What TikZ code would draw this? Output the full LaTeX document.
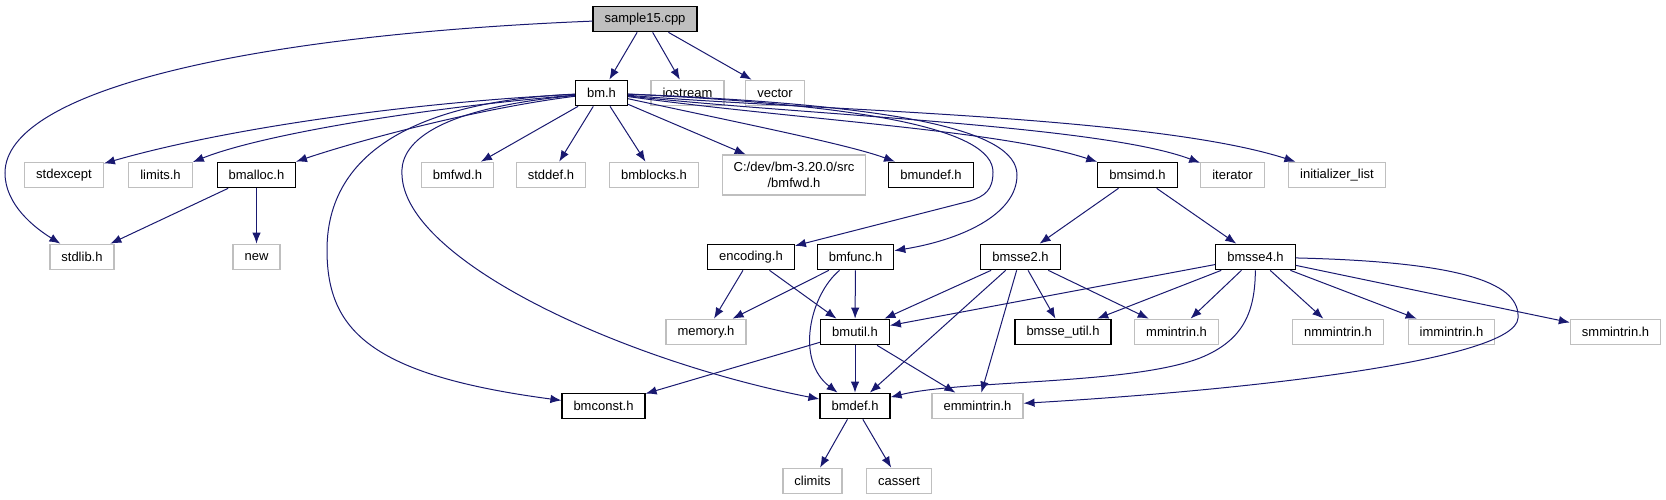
\documentclass[tikz,border=0pt]{standalone}
\usepackage{fontspec}
\setmainfont{Liberation Sans}
\usetikzlibrary{arrows.meta}
\definecolor{DepBlue}{HTML}{191970}
\definecolor{SysGray}{HTML}{BFBFBF}

\begin{document}
\begin{tikzpicture}[
    x=1pt,y=-1pt,font=\fontsize{13}{16}\selectfont,
    hdr/.style={draw=black,line width=1.2pt,fill=white,
      minimum height=25.5pt,inner xsep=11.5pt,inner ysep=3pt},
    sys/.style={hdr,draw=SysGray},
    src/.style={hdr,fill=SysGray},
    dep/.style={-{Latex[length=11pt,width=8.5pt]},line width=1pt,draw=DepBlue}
  ]
    \useasboundingbox (0,0) rectangle (1666,500);

    \node[src] (sample) at (645,19) {sample15.cpp};

    \node[hdr] (bmh) at (601.5,93) {bm.h};
    \node[sys] (iostream) at (687.5,93) {iostream};
    \node[sys] (vector) at (775,93) {vector};

    \node[sys] (stdexcept) at (64,175) {stdexcept};
    \node[sys] (limits) at (160.5,175) {limits.h};
    \node[hdr] (bmalloc) at (256.5,175) {bmalloc.h};
    \node[sys] (bmfwd) at (457.5,175) {bmfwd.h};
    \node[sys] (stddef) at (551,175) {stddef.h};
    \node[sys] (bmblocks) at (654,175) {bmblocks.h};
    \node[sys,minimum height=40pt,align=center] (srcfwd) at (794,175) {C:/dev/bm-3.20.0/src\\/bmfwd.h};
    \node[hdr] (bmundef) at (931,175) {bmundef.h};
    \node[hdr] (bmsimd) at (1137.5,175) {bmsimd.h};
    \node[sys] (iterator) at (1232.5,175) {iterator};
    \node[sys] (initlist) at (1337,175) {initializer\_list};

    \node[sys] (stdlib) at (82,257) {stdlib.h};
    \node[sys] (newh) at (256.5,257) {new};
    \node[hdr] (encoding) at (751,257) {encoding.h};
    \node[hdr] (bmfunc) at (855.5,257) {bmfunc.h};
    \node[hdr] (bmsse2) at (1020.5,257) {bmsse2.h};
    \node[hdr] (bmsse4) at (1255.5,257) {bmsse4.h};

    \node[sys] (memory) at (706,332) {memory.h};
    \node[hdr] (bmutil) at (855,332) {bmutil.h};
    \node[hdr] (bmsseutil) at (1063,332) {bmsse\_util.h};
    \node[sys] (mmintrin) at (1176.5,332) {mmintrin.h};
    \node[sys] (nmmintrin) at (1338,332) {nmmintrin.h};
    \node[sys] (immintrin) at (1451.5,332) {immintrin.h};
    \node[sys] (smmintrin) at (1615.5,332) {smmintrin.h};

    \node[hdr] (bmconst) at (603.5,406) {bmconst.h};
    \node[hdr] (bmdef) at (855,406) {bmdef.h};
    \node[sys] (emmintrin) at (977.5,406) {emmintrin.h};

    \node[sys] (climits) at (812.5,481) {climits};
    \node[sys] (cassert) at (899,481) {cassert};

    % sample15.cpp
    \draw[dep] (sample) -- (bmh);
    \draw[dep] (sample) -- (iostream);
    \draw[dep] (sample) -- (vector);
    \draw[dep] (sample) .. controls (250,35) and (5,90) .. (5,173)
      .. controls (5,205) and (35,228) .. (stdlib);

    % bm.h
    \draw[dep] (bmh) .. controls (400,103) and (220,130) .. (stdexcept);
    \draw[dep] (bmh) .. controls (420,108) and (260,135) .. (limits);
    \draw[dep] (bmh) .. controls (480,108) and (360,140) .. (bmalloc);
    \draw[dep] (bmh) -- (bmfwd);
    \draw[dep] (bmh) -- (stddef);
    \draw[dep] (bmh) -- (bmblocks);
    \draw[dep] (bmh) -- (srcfwd);
    \draw[dep] (bmh) .. controls (750,125) and (850,145) .. (bmundef);
    \draw[dep] (bmh) .. controls (800,120) and (1000,130) .. (bmsimd);
    \draw[dep] (bmh) .. controls (800,115) and (1100,125) .. (iterator);
    \draw[dep] (bmh) .. controls (800,110) and (1150,115) .. (initlist);
    \draw[dep] (bmh) .. controls (870,105) and (993,130) .. (993,172)
      .. controls (993,190) and (985,196) .. (970,201) -- (encoding);
    \draw[dep] (bmh) .. controls (900,105) and (1017,130) .. (1017,175)
      .. controls (1017,215) and (960,240) .. (bmfunc);
    \draw[dep] (bmh) .. controls (440,100) and (327,140) .. (327,250)
      .. controls (327,330) and (370,375) .. (bmconst);
    \draw[dep] (bmh) .. controls (420,110) and (400,150) .. (402,175)
      .. controls (405,260) and (620,360) .. (bmdef);

    \draw[dep] (bmalloc) -- (stdlib);
    \draw[dep] (bmalloc) -- (newh);

    \draw[dep] (encoding) -- (memory);
    \draw[dep] (encoding) -- (bmutil);
    \draw[dep] (bmfunc) -- (memory);
    \draw[dep] (bmfunc) -- (bmutil);
    \draw[dep] (bmfunc) .. controls (810,295) and (795,360) .. (bmdef);

    \draw[dep] (bmsimd) -- (bmsse2);
    \draw[dep] (bmsimd) -- (bmsse4);

    \draw[dep] (bmsse2) -- (bmutil);
    \draw[dep] (bmsse2) -- (bmdef);
    \draw[dep] (bmsse2) -- (emmintrin);
    \draw[dep] (bmsse2) -- (bmsseutil);
    \draw[dep] (bmsse2) -- (mmintrin);

    \draw[dep] (bmsse4) -- (bmutil);
    \draw[dep] (bmsse4) -- (bmsseutil);
    \draw[dep] (bmsse4) -- (mmintrin);
    \draw[dep] (bmsse4) -- (nmmintrin);
    \draw[dep] (bmsse4) -- (immintrin);
    \draw[dep] (bmsse4) -- (smmintrin);
    \draw[dep] (bmsse4) .. controls (1255,310) and (1245,340) .. (1200,358)
      .. controls (1130,385) and (960,380) .. (bmdef);
    \draw[dep] (bmsse4) .. controls (1470,262) and (1520,285) .. (1518,318)
      .. controls (1516,360) and (1250,390) .. (emmintrin);

    \draw[dep] (bmutil) -- (bmconst);
    \draw[dep] (bmutil) -- (bmdef);
    \draw[dep] (bmutil) -- (emmintrin);

    \draw[dep] (bmdef) -- (climits);
    \draw[dep] (bmdef) -- (cassert);
  \end{tikzpicture}
\end{document}
